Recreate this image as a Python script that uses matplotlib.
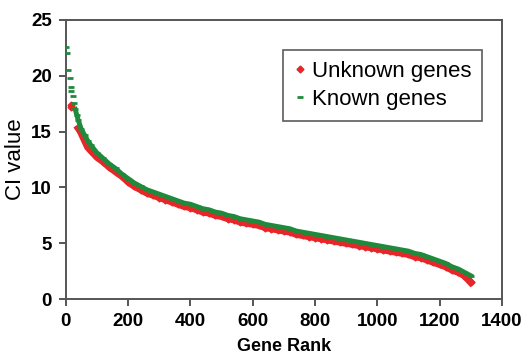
import matplotlib
import matplotlib.pyplot as plt

matplotlib.use('Agg')

# known genes (green)
known_rank = [1, 3, 8, 12, 15, 18, 22, 26, 30, 35, 40, 50, 60, 70, 80, 100,
              120, 140, 160, 180, 200, 220, 240, 260, 280, 300, 320, 340, 360,
              380, 400, 420, 440, 460, 480, 500, 520, 540, 560, 580, 600, 620,
              640, 660, 680, 700, 720, 740, 760, 780, 800, 820, 840, 860, 880,
              900, 920, 940, 960, 980, 1000, 1020, 1040, 1060, 1080, 1100,
              1120, 1140, 1160, 1180, 1200, 1220, 1240, 1260, 1280, 1300]
known_ci = [22.6, 22.0, 20.5, 19.8, 19.0, 18.6, 18.2, 17.6, 17.0, 16.5, 16.0,
            15.2, 14.7, 14.2, 13.8, 13.1, 12.6, 12.1, 11.7, 11.2, 10.8, 10.4,
            10.1, 9.8, 9.6, 9.4, 9.2, 9.0, 8.8, 8.6, 8.5, 8.3, 8.1, 8.0, 7.8,
            7.7, 7.5, 7.4, 7.2, 7.1, 7.0, 6.9, 6.7, 6.6, 6.5, 6.4, 6.3, 6.1,
            6.0, 5.9, 5.8, 5.7, 5.6, 5.5, 5.4, 5.3, 5.2, 5.1, 5.0, 4.9, 4.8,
            4.7, 4.6, 4.5, 4.4, 4.3, 4.1, 4.0, 3.8, 3.6, 3.4, 3.2, 2.9, 2.7,
            2.4, 2.1]

# unknown genes (red)
unknown_rank = [15, 18, 40, 45, 70, 80, 100, 120, 140, 160, 180, 200, 220,
                240, 260, 280, 300, 320, 340, 360, 380, 400, 420, 440, 460,
                480, 500, 520, 540, 560, 580, 600, 620, 640, 660, 680, 700,
                720, 740, 760, 780, 800, 820, 840, 860, 880, 900, 920, 940,
                960, 980, 1000, 1020, 1040, 1060, 1080, 1100, 1120, 1140,
                1160, 1180, 1200, 1220, 1240, 1260, 1280, 1300]
unknown_ci = [17.4, 17.2, 15.3, 15.1, 13.6, 13.3, 12.7, 12.3, 11.8, 11.4,
              11.0, 10.5, 10.1, 9.8, 9.5, 9.3, 9.1, 8.9, 8.7, 8.5, 8.3, 8.2,
              8.0, 7.8, 7.7, 7.5, 7.4, 7.2, 7.1, 6.9, 6.8, 6.7, 6.6, 6.4,
              6.3, 6.2, 6.1, 6.0, 5.8, 5.7, 5.6, 5.5, 5.4, 5.3, 5.2, 5.1,
              5.0, 4.9, 4.8, 4.7, 4.6, 4.5, 4.4, 4.3, 4.2, 4.1, 4.0, 3.8,
              3.7, 3.5, 3.3, 3.1, 2.9, 2.6, 2.4, 2.1, 1.5]

plt.rcParams['font.family'] = ['Liberation Sans', 'DejaVu Sans']

fig = plt.figure(figsize=(5.31, 3.63), dpi=100)
ax = fig.add_axes([0.124, 0.176, 0.821, 0.769])

red = '#e8262a'
green = '#1f8a3c'

# the top few points are scattered, the rest forms a dense ribbon
ax.plot(unknown_rank[2:], unknown_ci[2:], color=red, lw=5, zorder=2)
ax.plot(unknown_rank, unknown_ci, 'D', color=red, ms=3.5, zorder=2,
        label='Unknown genes')
ax.plot(known_rank[8:], known_ci[8:], color=green, lw=3.5, zorder=3)
ax.plot(known_rank, known_ci, '_', color=green, ms=5, mew=2, zorder=3,
        label='Known genes')

ax.set_xlim(0, 1400)
ax.set_ylim(0, 25)
ax.set_xticks(range(0, 1401, 200))
ax.set_yticks(range(0, 26, 5))

for s in ax.spines.values():
    s.set_color('#555555')
    s.set_linewidth(1.4)
ax.tick_params(direction='out', length=5, width=1.4, color='#555555',
               labelsize=13.5, pad=5)
for lbl in ax.get_xticklabels() + ax.get_yticklabels():
    lbl.set_fontweight('bold')

ax.set_xlabel('Gene Rank', fontsize=13, fontweight='bold', labelpad=6)
ax.set_ylabel('CI value', fontsize=16, labelpad=4)

leg = ax.legend(loc='upper left', bbox_to_anchor=(0.498, 0.892),
                fontsize=16, frameon=True, fancybox=False,
                handlelength=0.5, handletextpad=0.3, borderpad=0.5,
                labelspacing=0.3, borderaxespad=0)
leg.get_frame().set_edgecolor('#333333')
leg.get_frame().set_linewidth(1.2)

plt.savefig('out.png', dpi=100)
plt.close()
